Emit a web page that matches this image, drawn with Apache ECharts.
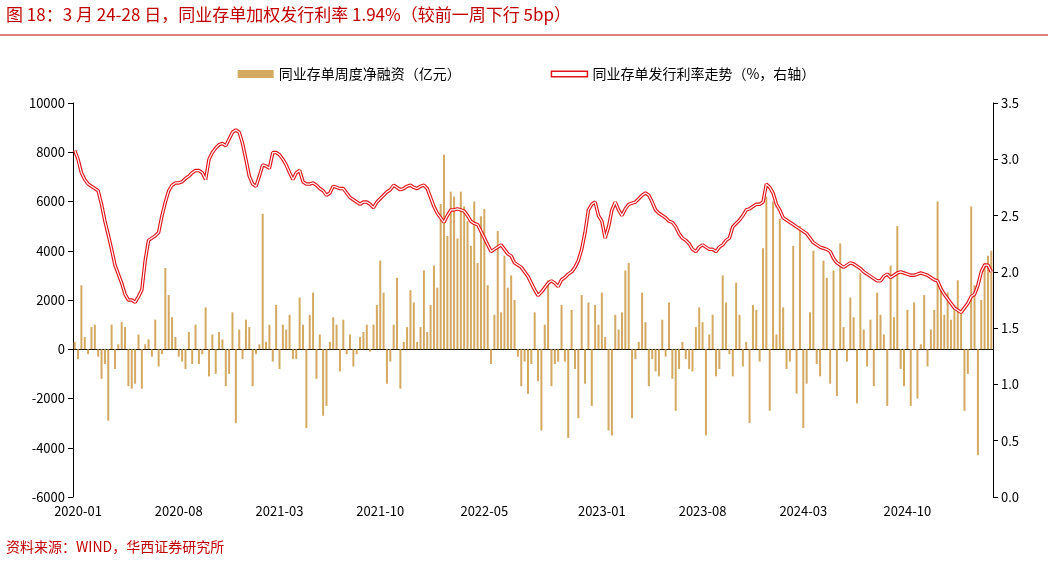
<!DOCTYPE html>
<html><head><meta charset="utf-8">
<script src="https://cdn.jsdelivr.net/npm/echarts@6/dist/echarts.min.js"></script>
<style>body{margin:0}#c{width:1053px;height:564px}</style></head>
<body><div id="c"></div>
<script>
// weekly categories from 2020-01-03
var weeks = [];
var d0 = new Date(Date.UTC(2020,0,3));
for (var i = 0; i < 274; i++) {
  var d = new Date(d0.getTime() + i*7*86400000);
  weeks.push(d.toISOString().slice(0,10));
}
var netFinance = [
 300,-400,2600,500,-200,900,1000,-300,-1200,-600,
 -2900,1000,-800,200,1100,900,-1500,-1600,-1400,600,
 -1600,200,400,-300,1200,-700,-200,3300,2200,1300,
 500,-300,-500,-800,700,-600,1000,-600,-200,1700,
 -1100,600,-1000,700,400,-1500,-1000,1500,-3000,800,
 -400,1200,900,-1500,-200,200,5500,300,1000,-500,
 1800,-800,1000,800,1400,-400,-400,2100,1000,-3200,
 1400,2300,-1200,600,-2700,-2300,300,1300,1000,-900,
 1200,-200,600,-700,-200,500,700,1000,-100,1000,
 1800,3600,2300,-1400,-500,1000,2900,-1600,300,900,
 2400,1900,300,900,3200,700,1800,3400,2500,5900,
 7900,4600,6400,6200,4500,6400,5800,5200,4200,6000,
 3500,5400,5700,2600,-600,1400,4800,1500,3800,2500,
 3000,2000,-300,-1500,-500,-1800,-600,1500,-1300,-3300,
 1000,2800,-1500,-600,-500,1800,-500,-3600,1600,-800,
 -2800,2200,-1400,1900,-2300,1800,1000,2300,500,-3300,
 -3500,1400,800,1500,3200,3500,-2800,-400,300,2300,
 1100,-1500,-400,-900,-1100,1200,-300,1900,-1200,-2500,
 -800,300,-400,-800,-900,900,1700,1100,-3500,600,
 1400,-1100,-800,3000,1900,-200,-1100,2700,1400,-700,
 300,-3000,1800,1600,-500,4100,6200,-2500,6000,600,
 5300,1700,-800,-500,4200,-1800,5000,-3200,-1400,1500,
 4000,-600,-1100,3600,2900,-1400,3200,-1900,4300,900,
 -500,2100,1300,-2200,3100,800,-700,1200,-1500,2300,
 1400,600,-2300,3400,1300,5000,-800,-1500,1600,-2300,
 1900,-2000,200,2200,-700,800,1600,6000,2400,1400,
 2300,1200,1800,2800,1600,-2500,-1000,5800,2600,-4300,
 2000,3500,3800,4000
];
var issueRate = [
 3.08,3.0,2.88,2.82,2.78,2.76,2.74,2.72,2.6,2.45,
 2.33,2.2,2.06,1.98,1.9,1.8,1.75,1.75,1.73,1.78,
 1.84,2.1,2.28,2.3,2.32,2.35,2.5,2.62,2.72,2.77,
 2.79,2.79,2.8,2.83,2.85,2.88,2.9,2.9,2.88,2.82,
 3.0,3.06,3.1,3.13,3.14,3.12,3.18,3.24,3.26,3.24,
 3.14,3.0,2.85,2.78,2.76,2.85,2.95,2.94,2.92,3.06,
 3.06,3.04,3.0,2.95,2.88,2.82,2.88,2.9,2.8,2.78,
 2.78,2.79,2.77,2.74,2.72,2.68,2.7,2.76,2.75,2.74,
 2.74,2.7,2.66,2.64,2.62,2.6,2.62,2.62,2.6,2.57,
 2.62,2.65,2.68,2.71,2.73,2.77,2.75,2.73,2.74,2.76,
 2.77,2.75,2.74,2.76,2.77,2.74,2.66,2.58,2.52,2.48,
 2.44,2.5,2.55,2.55,2.56,2.55,2.54,2.5,2.45,2.43,
 2.42,2.36,2.3,2.24,2.18,2.2,2.22,2.24,2.2,2.16,
 2.14,2.08,2.06,2.04,2.0,1.96,1.9,1.84,1.79,1.82,
 1.86,1.9,1.92,1.9,1.87,1.93,1.95,1.98,2.0,2.04,
 2.1,2.2,2.35,2.55,2.6,2.62,2.5,2.45,2.3,2.4,
 2.55,2.62,2.55,2.5,2.56,2.6,2.61,2.62,2.65,2.68,
 2.7,2.68,2.62,2.55,2.52,2.5,2.48,2.45,2.44,2.4,
 2.34,2.3,2.28,2.25,2.2,2.18,2.22,2.24,2.22,2.2,
 2.2,2.18,2.22,2.24,2.28,2.3,2.4,2.43,2.46,2.5,
 2.55,2.56,2.58,2.6,2.6,2.62,2.78,2.75,2.7,2.6,
 2.55,2.48,2.46,2.44,2.42,2.4,2.38,2.36,2.34,2.3,
 2.26,2.24,2.22,2.21,2.2,2.18,2.12,2.08,2.06,2.04,
 2.06,2.08,2.07,2.05,2.03,2.0,1.98,1.96,1.94,1.92,
 1.92,1.96,1.98,1.95,1.97,1.99,2.0,1.99,1.98,1.97,
 1.97,1.98,1.99,1.98,1.97,1.95,1.93,1.92,1.85,1.8,
 1.76,1.72,1.68,1.66,1.64,1.68,1.72,1.78,1.8,1.88,
 2.0,2.06,2.06,2.0
];
var labelMonths = ['2020-01','2020-08','2021-03','2021-10','2022-05','2023-01','2023-08','2024-03','2024-10'];
var shown = {};
weeks.forEach(function(w, i){
  var m = w.slice(0,7);
  if (labelMonths.indexOf(m) >= 0 && !shown[m]) shown[m] = i;
});
function isLabel(i){ return shown[weeks[i].slice(0,7)] === i; }

var font = '"Noto Sans CJK SC", sans-serif';
var chart = echarts.init(document.getElementById('c'));
chart.setOption({
  animation: false,
  textStyle: {fontFamily: font},
  graphic: [
    {type:'text', left: 6, top: 6, style:{text:'图 18：3 月 24-28 日，同业存单加权发行利率 1.94%（较前一周下行 5bp）', fill:'#c00000', font:'17px ' + font}},
    {type:'line', shape:{x1:0,y1:35,x2:1048,y2:35}, style:{stroke:'#c00000', lineWidth:1}},
    {type:'text', left: 6, top: 540, style:{text:'资料来源：WIND，华西证券研究所', fill:'#c00000', font:'14px ' + font}}
  ],
  legend: {
    top: 62, left: 'center', itemGap: 90, itemWidth: 36, itemHeight: 8,
    textStyle: {fontSize: 14, color: '#000'},
    data: [
      {name:'同业存单周度净融资（亿元）', icon:'rect'},
      {name:'同业存单发行利率走势（%，右轴）', icon:'path://M0,0H40V6H0Z', itemStyle:{color:'#fff', borderColor:'#e0141a', borderWidth:1.5}}
    ]
  },
  grid: {left: 73, right: 60, top: 103, bottom: 67},
  xAxis: {
    type: 'category', data: weeks, boundaryGap: true,
    axisLine: {onZero: true, lineStyle: {color: '#000'}},
    axisTick: {interval: function(i){ return isLabel(i); }, lineStyle:{color:'#000'}},
    axisLabel: {interval: function(i){ return isLabel(i); }, formatter: function(v){ return v.slice(0,7); },
      color:'#000', fontSize: 13},
    position: 'bottom'
  },
  yAxis: [
    {type:'value', min:-6000, max:10000, interval:2000, splitLine:{show:false},
     axisLine:{show:true, lineStyle:{color:'#000'}}, axisTick:{show:true},
     axisLabel:{color:'#000', fontSize:13, formatter:function(v){ return String(v); }}},
    {type:'value', min:0, max:3.5, interval:0.5, splitLine:{show:false},
     axisLine:{show:true, lineStyle:{color:'#000'}}, axisTick:{show:true},
     axisLabel:{color:'#000', fontSize:13, formatter:function(v){ return v.toFixed(1); }}}
  ],
  series: [
    {name:'同业存单周度净融资（亿元）', type:'bar', data: netFinance, barWidth: 2,
     itemStyle:{color:'#d4a961'}},
    {name:'同业存单发行利率走势（%，右轴）', type:'line', yAxisIndex:1, data: issueRate,
     showSymbol:false, lineStyle:{color:'#e0141a', width:3.5}, itemStyle:{color:'#e0141a'}},
    {name:'inner', type:'line', yAxisIndex:1, data: issueRate, showSymbol:false,
     lineStyle:{color:'#fff', width:1.2}, silent:true}
  ]
});
</script></body></html>
